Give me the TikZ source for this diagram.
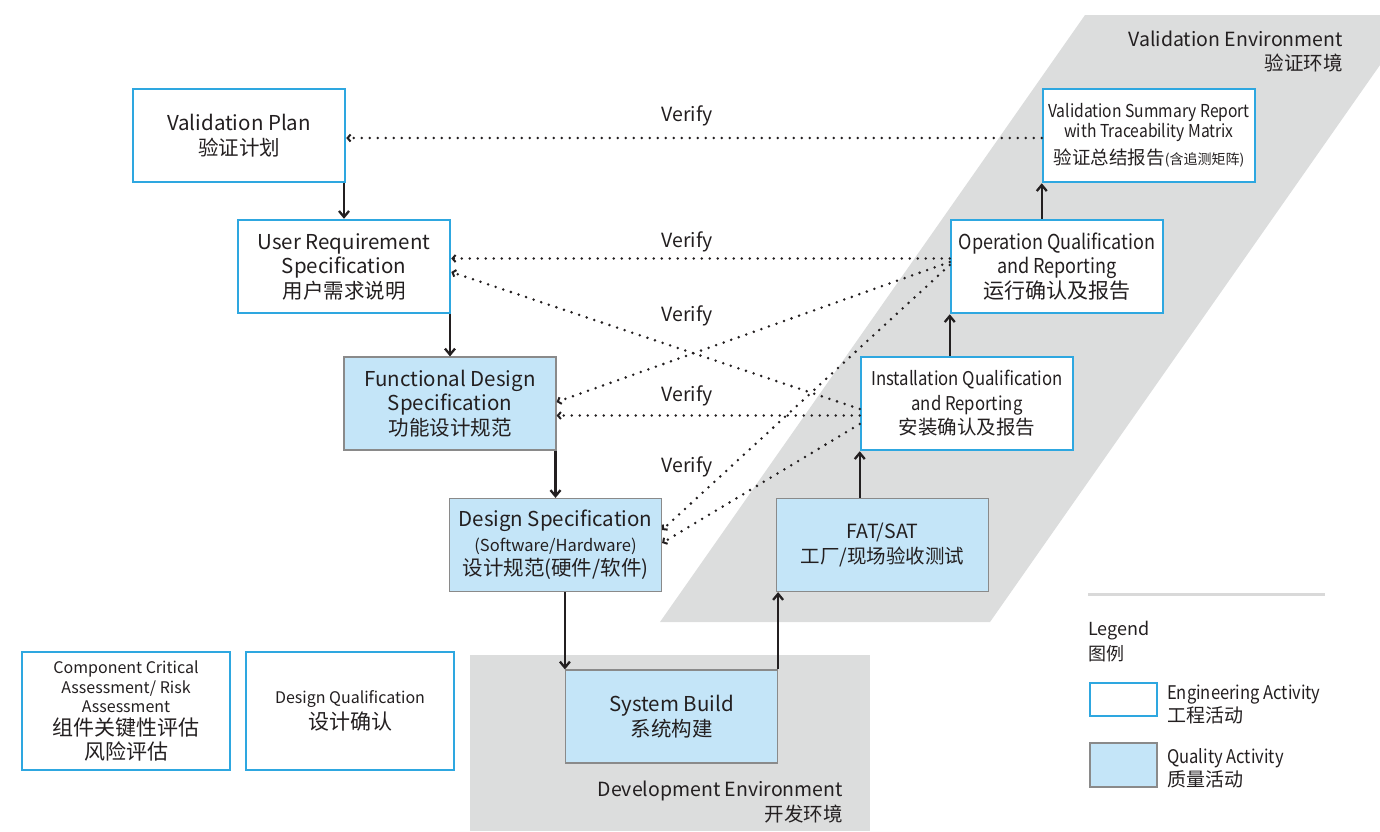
\documentclass[tikz,border=0pt]{standalone}
\usepackage{fontspec}
\setmainfont{Noto Sans CJK SC}
\newfontfamily\narrow{Noto Sans CJK SC}[FakeStretch=0.88]
\usetikzlibrary{arrows.meta, positioning, calc}

\definecolor{ink}{HTML}{231F20}
\definecolor{engblue}{HTML}{2EA7E0}
\definecolor{qblue}{HTML}{C4E5F8}
\definecolor{qgray}{HTML}{8A8A8A}
\definecolor{envgray}{HTML}{DCDDDD}
\definecolor{rulegray}{HTML}{D9D9D9}

\newcommand{\fsz}[2]{\fontsize{#1}{#2}\selectfont}

\begin{document}
\begin{tikzpicture}[
    x=1pt, y=-1pt,
    every node/.style={text=ink, font=\fsz{20.5}{24.5}},
    eng/.style={
        rectangle,
        minimum width=212pt,
        minimum height=93pt,
        align=center,
        draw=engblue,
        line width=2.5pt,
        fill=white
    },
    qual/.style={
        eng,
        draw=qgray,
        line width=1.2pt,
        fill=qblue
    },
    flow/.style={
        draw=ink,
        line width=2.3pt,
        -{Straight Barb[length=6pt,width=10pt]}
    },
    verify/.style={
        draw=ink,
        line width=2.8pt,
        line cap=round,
        dash pattern=on 0pt off 8pt,
        -{Straight Barb[length=3pt,width=7pt,line width=2pt]}
    },
    lbl/.style={inner sep=0pt}
]
\useasboundingbox (0,0) rectangle (1380,831);

% Environments
\fill[envgray] (1085,15) -- (1380,15) -- (1380,65) -- (990,622) -- (660,622) -- cycle;
\fill[envgray] (470,655) rectangle (870,831);
\node (valenv) [lbl, anchor=east, align=right, font=\fsz{19.5}{24}] at (1343,52) {Validation Environment\\验证环境};
\node (devenv) [lbl, anchor=east, align=right, font=\fsz{19.5}{25}] at (843,802) {Development Environment\\开发环境};

% Left leg
\node (vp) [eng] at (239,135.5) {Validation Plan\\[1pt]验证计划};
\node (urs) [eng] at (344,266.5) {User Requirement\\Specification\\用户需求说明};
\node (fds) [qual] at (450,403.5) {Functional Design\\Specification\\功能设计规范};
\node (ds) [qual] at (555.5,545) {Design Specification\\{\fsz{16.5}{23}(Software/Hardware)}\\设计规范(硬件/软件)};

% Bottom
\node (sb) [qual] at (671.5,716.5) {System Build\\系统构建};

% Right leg
\node (fat) [qual, font=\fsz{19.5}{24.5}] at (882.5,545) {FAT/SAT\\工厂/现场验收测试};
\node (iq) [eng, font=\narrow\fsz{19}{24.5}] at (967,403.5) {Installation Qualification\\and Reporting\\{\normalfont\fsz{19.5}{25}安装确认及报告}};
\node (oq) [eng, font=\narrow\fsz{20.5}{24.5}] at (1057,266.5) {Operation Qualification\\and Reporting\\{\normalfont\fsz{21}{25}运行确认及报告}};
\node (vsr) [eng, font=\narrow\fsz{17.8}{19.5}] at (1149,135.5) {Validation Summary Report\\with Traceability Matrix\\[7pt]{\normalfont\fsz{18.5}{20}验证总结报告}{\normalfont\fsz{14}{20}(含追测矩阵)}};

% Side activities
\node (cca) [eng, minimum width=208pt, minimum height=118pt, font=\fsz{16}{19.5}] at (126,711) {Component Critical\\Assessment/ Risk\\Assessment\\[3pt]{\fsz{21}{23}组件关键性评估}\\[3pt]{\fsz{21}{23}风险评估}};
\node (dq) [eng, minimum width=208pt, minimum height=118pt, font=\fsz{16}{26}] at (350,711) {Design Qualification\\{\fsz{21}{26}设计确认}};

% Solid arrows
\draw [flow] (vp.south -| urs.north) -- (urs.north);
\draw [flow] (urs.south -| fds.north) -- (fds.north);
\draw [flow] (fds.south -| ds.north) -- (ds.north);
\draw [flow] (ds.south -| sb.north west) -- (sb.north west);
\draw [flow] (sb.north east) -- (sb.north east |- fat.south);
\draw [flow] (iq.south west |- fat.north) -- (iq.south west);
\draw [flow] (oq.south west |- iq.north) -- (oq.south west);
\draw [flow] (vsr.south west |- oq.north) -- (vsr.south west);

% Verify arrows
\draw [verify] ([yshift=-2.5pt]vsr.west) -- ([yshift=-2.5pt]vp.east);
\draw [verify] ([yshift=8pt]oq.west) -- ([yshift=8pt]urs.east);
\draw [verify] ([yshift=-5.5pt]iq.west) -- ([yshift=-5.5pt]urs.east);
\draw [verify] ([yshift=4.5pt]oq.west) -- ([yshift=1.5pt]fds.east);
\draw [verify] ([yshift=-12pt]iq.west) -- ([yshift=-12pt]fds.east);
\draw [verify] ([yshift=1.5pt]oq.west) -- ([yshift=15pt]ds.east);
\draw [verify] ([yshift=-20.5pt]iq.west) -- ([yshift=2pt]ds.east);

% Verify labels
\foreach \y in {116,242,316,396,467}
    \node [lbl, font=\fsz{19.5}{24}] at (687,\y) {Verify};

% Legend
\draw [rulegray, line width=3pt] (1088,594) -- (1325,594);
\node (legend) [lbl, anchor=west, align=left, font=\fsz{18}{25}] at (1088,642) {Legend\\图例};
\node (lgeng) [eng, minimum width=67pt, minimum height=33pt] at (1123.5,699.5) {};
\node (lgqual) [qual, minimum width=67pt, minimum height=44pt] at (1123.5,765) {};
\node (lgengtxt) [lbl, anchor=west, align=left, font=\narrow\fsz{18.8}{23}] at (1167,704) {Engineering Activity\\{\normalfont\fsz{19}{23}工程活动}};
\node (lgqualtxt) [lbl, anchor=west, align=left, font=\narrow\fsz{18.8}{23}] at (1167,768) {Quality Activity\\{\normalfont\fsz{19}{23}质量活动}};

\end{tikzpicture}
\end{document}
